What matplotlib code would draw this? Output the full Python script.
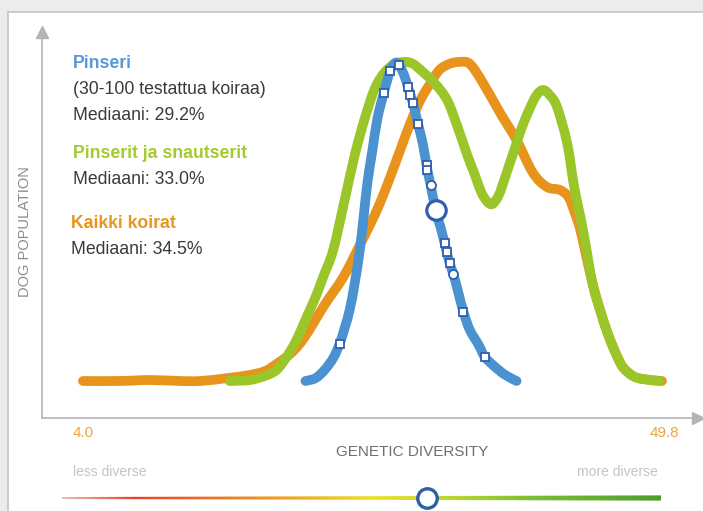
import numpy as np
import matplotlib.pyplot as plt
from matplotlib.patches import Rectangle, PathPatch, Polygon
from matplotlib.path import Path
from matplotlib.colors import LinearSegmentedColormap

# genetic diversity (x) vs. relative dog population (y)
all_x = [4.0, 6.9, 9.3, 11.7, 13.3, 15.4, 17.2, 18.4, 19.3, 20.4, 21.2, 22.0, 23.1, 24.6, 25.9,
         26.7, 27.5, 28.3, 29.1, 29.9, 30.7, 31.5, 32.2, 33.0, 33.8, 34.6, 35.6, 37.0, 38.3, 39.6,
         40.7, 41.7, 42.4, 42.9, 43.3, 43.7, 44.3, 44.9, 45.5, 46.1, 46.7, 47.5, 48.3, 49.8]
all_y = [0, 0, 0.3, 0, 0, 0.9, 1.9, 3.1, 5.3, 8.5, 11.9, 16.6, 23.8, 32.6, 42.6,
         48.9, 55.8, 63.9, 72.4, 80.9, 88.1, 93.4, 97.5, 99.4, 100, 99.4, 93.7, 84.0, 75.5, 65.2,
         60.8, 59.9, 57.7, 52.7, 48.0, 41.1, 30.7, 22.3, 15.0, 9.1, 4.4, 1.6, 0.6, 0]

group_x = [15.6, 17.2, 18.4, 19.3, 20.1, 20.9, 21.7, 22.4, 23.0, 23.8, 24.7, 25.5, 26.3, 27.1,
           27.9, 28.7, 29.5, 30.1, 30.7, 31.8, 32.8, 33.6, 34.4, 35.0, 35.5, 36.0, 36.4, 36.9,
           37.4, 38.3, 38.8, 39.4, 39.9, 40.4, 40.9, 41.5, 42.3, 42.8, 43.2, 43.6, 44.3,
           44.9, 45.5, 46.1, 46.7, 47.5, 48.3, 49.6]
group_y = [0, 0.3, 1.6, 3.4, 7.5, 12.9, 20.1, 26.3, 32.6, 41.1, 56.7, 70.8, 82.4, 91.8,
           96.9, 99.4, 100, 99.4, 97.5, 93.4, 88.1, 80.0, 70.8, 64.6, 59.2, 56.1, 55.5, 58.3,
           63.9, 74.6, 80.3, 85.9, 89.7, 91.2, 89.7, 85.9, 74.6, 62.1, 54.2, 46.4, 30.7,
           22.3, 15.0, 9.1, 4.4, 1.6, 0.6, 0]

breed_x = [21.6, 22.4, 23.1, 23.8, 24.3, 24.7, 25.1, 25.5, 25.9, 26.2, 26.5, 26.9, 27.3, 27.8,
           28.3, 28.7, 29.0, 29.4, 29.7, 30.1, 30.5, 30.9, 31.2, 31.5, 31.9, 32.3, 32.6, 33.0,
           33.3, 33.7, 34.1, 34.6, 35.3, 35.8, 36.6, 37.4, 38.3]
breed_y = [0, 0.9, 3.4, 7.2, 11.6, 16.6, 22.3, 30.7, 41.1, 51.4, 62.1, 72.4, 82.4, 90.3,
           97.2, 99.7, 99.1, 95.9, 92.2, 87.1, 80.6, 74.0, 67.1, 61.4, 53.6, 48.0, 43.3, 37.0,
           33.5, 27.6, 21.6, 16.0, 11.3, 7.5, 4.4, 1.9, 0]

# individual tested dogs
dogs_sq_x = [24.3, 27.8, 28.3, 29.0, 29.7, 29.9, 30.1, 30.5, 31.2, 31.2, 32.6, 32.8, 33.0, 34.1, 35.8]
dogs_sq_y = [11.6, 90.3, 97.2, 99.1, 92.2, 89.7, 87.1, 80.6, 67.7, 66.1, 43.3, 40.4, 37.0, 21.6, 7.5]
dogs_ci_x = [31.5, 33.3]
dogs_ci_y = [61.4, 33.5]
median_x, median_y = 31.9, 53.6
median_pos = 0.61  # position on the diversity bar

W, H = 703, 511
plt.rcParams["font.family"] = ["Liberation Sans", "DejaVu Sans"]
fig = plt.figure(figsize=(W / 100, H / 100), dpi=100, facecolor="#ececec")


def fx(x):
    return x / W


def fy(y):
    return 1 - y / H


def spline_path(xs, ys):
    # smooth curve through the points (catmull-rom as bezier segments)
    p = np.column_stack([xs, ys]).astype(float)
    p = np.vstack([p[0], p, p[-1]])
    verts = [p[1]]
    codes = [Path.MOVETO]
    for i in range(1, len(p) - 2):
        c1 = p[i] + (p[i + 1] - p[i - 1]) / 6
        c2 = p[i + 1] - (p[i + 2] - p[i]) / 6
        verts += [c1, c2, p[i + 1]]
        codes += [Path.CURVE4] * 3
    return Path(verts, codes)


def draw_curve(ax, xs, ys, color):
    ax.add_patch(PathPatch(spline_path(xs, ys), fill=False, edgecolor=color, lw=7,
                           capstyle="round", joinstyle="round"))


# white panel with grey border
fig.patches.append(Rectangle((fx(8), -0.01), 1, fy(12) + 0.01, transform=fig.transFigure,
                             facecolor="white", edgecolor="#c4c4c4", linewidth=1.2, zorder=-5))

ax = fig.add_axes([fx(42), fy(418), fx(700) - fx(42), fy(30) - fy(418)])
ax.set_xlim(0.76, 52.81)
ax.set_ylim(-11.6, 110.0)
ax.axis("off")

draw_curve(ax, all_x, all_y, "#e8931c")
draw_curve(ax, group_x, group_y, "#9ac62a")
draw_curve(ax, breed_x, breed_y, "#4a93d0")
ax.plot(dogs_sq_x, dogs_sq_y, ls="", marker="s", ms=6, mfc="white", mec="#2f5faf", mew=1.3)
ax.plot(dogs_ci_x, dogs_ci_y, ls="", marker="o", ms=6.5, mfc="white", mec="#2f5faf", mew=1.3)
ax.plot([median_x], [median_y], ls="", marker="o", ms=14, mfc="white", mec="#2f5faf", mew=2.3)

# axis lines with arrows
axis_col = "#b4b4b4"
fig.add_artist(plt.Line2D([fx(42), fx(42)], [fy(418), fy(34)], color=axis_col, lw=1.2))
fig.add_artist(plt.Line2D([fx(42), fx(696)], [fy(418), fy(418)], color=axis_col, lw=1.2))
fig.add_artist(plt.Line2D([fx(42)], [fy(32)], marker="^", ms=9, color=axis_col))
fig.add_artist(plt.Line2D([fx(698)], [fy(418)], marker=">", ms=9, color=axis_col))

# legend text
dark = "#3a3a3a"
fs = 12.7
fig.text(fx(73), fy(63), "Pinseri", color="#5b98d6", fontsize=fs, fontweight="bold", va="center")
fig.text(fx(73), fy(89), "(30-100 testattua koiraa)", color=dark, fontsize=fs, va="center")
fig.text(fx(73), fy(115), "Mediaani: 29.2%", color=dark, fontsize=fs, va="center")
fig.text(fx(73), fy(153), "Pinserit ja snautserit", color="#a2cc2e", fontsize=fs, fontweight="bold", va="center")
fig.text(fx(73), fy(179), "Mediaani: 33.0%", color=dark, fontsize=fs, va="center")
fig.text(fx(71), fy(224), "Kaikki koirat", color="#e8961e", fontsize=fs, fontweight="bold", va="center")
fig.text(fx(71), fy(250), "Mediaani: 34.5%", color=dark, fontsize=fs, va="center")

fig.text(fx(25), fy(232), "DOG POPULATION", color="#8c8c8c", fontsize=10.5, rotation=90,
         ha="center", va="center")
fig.text(fx(83), fy(433), "4.0", color="#eba53a", fontsize=11, ha="center", va="center")
fig.text(fx(664), fy(433), "49.8", color="#eba53a", fontsize=11, ha="center", va="center")
fig.text(fx(412), fy(452), "GENETIC DIVERSITY", color="#6e6e6e", fontsize=11, ha="center", va="center")
fig.text(fx(73), fy(472), "less diverse", color="#c4c4c4", fontsize=10, va="center")
fig.text(fx(658), fy(472), "more diverse", color="#c4c4c4", fontsize=10, ha="right", va="center")

# diversity colour bar (tapered gradient)
bar = fig.add_axes([fx(62), fy(506), fx(661) - fx(62), fy(490) - fy(506)])
bar.set_xlim(0, 1)
bar.set_ylim(-1, 1)
bar.axis("off")
cmap = LinearSegmentedColormap.from_list(
    "div", [(0, "#f3b8b0"), (0.12, "#e2452c"), (0.35, "#ee9a26"), (0.52, "#ede02c"),
            (0.66, "#b6d632"), (0.8, "#78bb34"), (1, "#4e9e2e")])
img = bar.imshow(np.linspace(0, 1, 512)[None, :], extent=[0, 1, -1, 1], cmap=cmap,
                 aspect="auto", interpolation="bilinear")
taper = Polygon([(0, -0.12), (1, -0.33), (1, 0.33), (0, 0.12)], closed=True,
                transform=bar.transData, facecolor="none", edgecolor="none")
bar.add_patch(taper)
img.set_clip_path(taper)
bar.plot([median_pos], [0], marker="o", ms=14, mfc="white", mec="#2d5fa8", mew=2.4, clip_on=False)

fig.savefig("out.png", dpi=100, facecolor=fig.get_facecolor())
